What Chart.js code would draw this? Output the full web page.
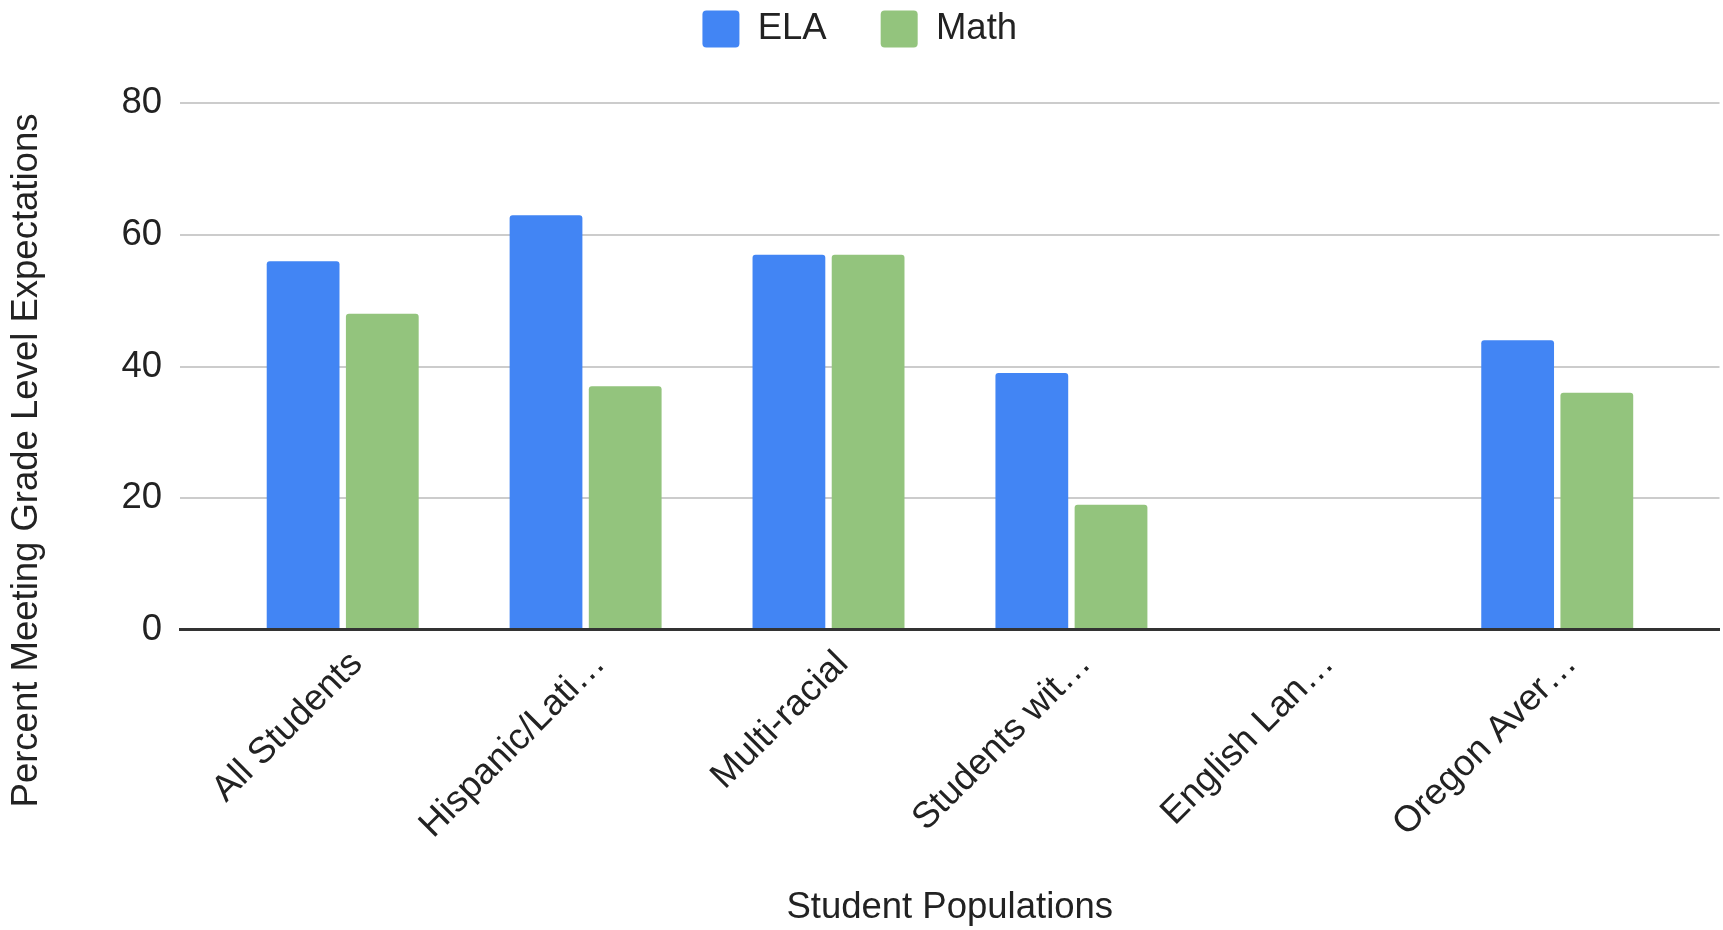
<!DOCTYPE html>
<html>
<head>
<meta charset="utf-8">
<script src="https://cdn.jsdelivr.net/npm/chart.js@4/dist/chart.umd.min.js"></script>
<style>
  html, body { margin: 0; padding: 0; background: #ffffff; }
  #wrap { width: 1723px; height: 930px; }
</style>
</head>
<body>
<div id="wrap"><canvas id="c" width="1723" height="930"></canvas></div>
<script>
// ---- data ----
const categories = ['All Students', 'Hispanic/Latino', 'Multi-racial', 'Students with Disabilities', 'English Language Learners', 'Oregon Average'];
const tickLabels = ['All Students', 'Hispanic/Lati\u2026', 'Multi-racial', 'Students wit\u2026', 'English Lan\u2026', 'Oregon Aver\u2026'];
const elaValues = [56, 63, 57, 39, null, 44];
const mathValues = [48, 37, 57, 19, null, 36];
const yTicks = [0, 20, 40, 60, 80];
const seriesNames = ['ELA', 'Math'];
const xTitle = 'Student Populations';
const yTitle = 'Percent Meeting Grade Level Expectations';

const FONT = "'Liberation Sans', Arial, Helvetica, sans-serif";
const FS = 36.5;
Chart.defaults.font.family = FONT;
Chart.defaults.color = '#222222';

const toPoints = arr => arr.map((v, i) => ({ x: i, y: v }));

// keep a fixed gap between the legend and the plot area
const legendGap = {
  id: 'legendGap',
  beforeInit(chart) {
    const lg = chart.legend;
    if (!lg) return;
    const fit = lg.fit;
    lg.fit = function () {
      fit.call(this);
      this.height = 146.8;
    };
  }
};

new Chart(document.getElementById('c'), {
  type: 'bar',
  plugins: [legendGap],
  data: {
    datasets: [
      {
        label: seriesNames[0],
        data: toPoints(elaValues),
        backgroundColor: '#4285F4',
        borderWidth: 0,
        borderRadius: { topLeft: 3, topRight: 3, bottomLeft: 0, bottomRight: 0 },
        borderSkipped: false,
        categoryPercentage: 0.652,
        barPercentage: 0.919
      },
      {
        label: seriesNames[1],
        data: toPoints(mathValues),
        backgroundColor: '#93C47D',
        borderWidth: 0,
        borderRadius: { topLeft: 3, topRight: 3, bottomLeft: 0, bottomRight: 0 },
        borderSkipped: false,
        categoryPercentage: 0.652,
        barPercentage: 0.919
      }
    ]
  },
  options: {
    responsive: false,
    animation: false,
    devicePixelRatio: 1,
    layout: { padding: { top: -43.5, bottom: -34.5, left: 0, right: 3.5 } },
    plugins: {
      tooltip: { enabled: false },
      legend: {
        position: 'top',
        align: 'center',
        labels: {
          boxWidth: 37,
          boxHeight: 37,
          padding: 54,
          useBorderRadius: true,
          borderRadius: 4,
          color: '#222222',
          font: { size: FS, family: FONT }
        }
      },
      title: {
        display: true,
        position: 'left',
        text: yTitle,
        color: '#222222',
        font: { size: FS, weight: 'normal', family: FONT },
        padding: { top: 5, bottom: 5 }
      }
    },
    scales: {
      x: {
        type: 'linear',
        min: -0.6698,
        max: 5.668,
        offset: false,
        grid: { display: false, drawTicks: false },
        border: { display: true, color: '#333333', width: 3, z: 1 },
        afterBuildTicks: scale => { scale.ticks = categories.map((_, i) => ({ value: i })); },
        afterFit: scale => { scale.height = 334.8; },
        ticks: {
          autoSkip: false,
          minRotation: 45,
          maxRotation: 45,
          padding: 13,
          labelOffset: 14,
          color: '#222222',
          font: { size: FS, family: FONT },
          callback: value => tickLabels[value]
        },
        title: {
          display: true,
          text: xTitle,
          color: '#222222',
          font: { size: FS, family: FONT },
          padding: { top: 4, bottom: 34.9 }
        }
      },
      y: {
        min: 0,
        max: 80,
        grid: { color: '#cccccc', lineWidth: 2, drawTicks: false },
        border: { display: false },
        afterBuildTicks: scale => { scale.ticks = yTicks.map(v => ({ value: v })); },
        afterFit: scale => { scale.width = 126.2; },
        ticks: {
          padding: 18,
          color: '#222222',
          font: { size: FS, family: FONT }
        }
      }
    }
  }
});
</script>
</body>
</html>
